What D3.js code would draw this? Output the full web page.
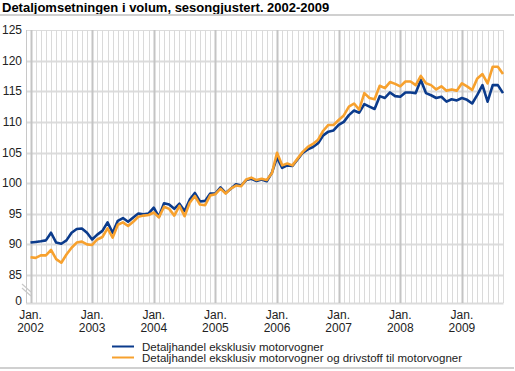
<!DOCTYPE html>
<html>
<head>
<meta charset="utf-8">
<style>
  body { margin: 0; background: #fff; }
  text { font-family: Arial, "Liberation Sans", sans-serif; fill: #222; }
</style>
</head>
<body>
<script src="https://d3js.org/d3.v7.min.js"></script>
<script>

  // monthly index, Jan 2002 .. Sep 2009
  var startYear = 2002;
  var yearTicks = [2002, 2003, 2004, 2005, 2006, 2007, 2008, 2009];
  var yTicks = [125, 120, 115, 110, 105, 100, 95, 90, 85, 0];

  var seriesNames = [
    "Detaljhandel eksklusiv motorvogner",
    "Detaljhandel eksklusiv motorvogner og drivstoff til motorvogner"
  ];

  var eksklMotor = [
    90.3, 90.4, 90.5, 90.65, 91.9, 90.3, 90.1, 90.65, 91.9, 92.5, 92.6, 91.9,
    90.8, 91.6, 92.2, 93.6, 91.9, 93.85, 94.3, 93.7, 94.4, 95.05, 94.9, 95.05,
    96.0, 94.5, 96.7, 96.5, 95.8, 96.65, 95.45, 97.3, 98.4, 97.0, 97.1, 98.3,
    98.3, 99.3, 98.4, 99.1, 99.8, 99.6, 100.5, 100.7, 100.35, 100.6, 100.3, 101.7,
    104.2, 102.5, 102.9, 102.8, 103.85, 104.95, 105.5, 105.9, 106.5, 107.8, 108.4, 108.6,
    109.5, 110.0, 111.1, 111.85, 111.5, 112.9, 112.5, 112.1, 114.2, 113.9, 114.8, 114.2,
    114.1, 114.8, 114.8, 114.7, 116.85, 114.7, 114.35, 113.9, 114.1, 113.3, 113.7, 113.5,
    113.9, 113.6, 113.0, 114.4, 116.0, 113.3, 116.0, 116.0, 114.7
  ];

  var eksklMotorDrivstoff = [
    87.9, 87.8, 88.2, 88.2, 89.1, 87.6, 87.0, 88.35, 89.45, 90.3, 90.45, 90.0,
    89.9, 90.8, 91.2, 92.6, 91.1, 93.2, 93.6, 93.0, 93.7, 94.5, 94.7, 94.8,
    95.2, 94.4, 96.15, 95.8, 94.7, 96.3, 94.6, 96.8, 97.9, 96.5, 96.4, 98.0,
    98.2, 99.1, 98.3, 99.1, 99.6, 99.5, 100.6, 100.9, 100.5, 100.7, 100.5, 101.6,
    104.95, 102.9, 103.2, 102.9, 104.0, 105.1, 105.9, 106.4, 107.1, 108.55, 109.5, 109.5,
    110.3, 111.05, 112.5, 113.0, 112.0, 114.7, 113.9, 113.7, 115.9, 115.5, 116.5, 116.2,
    115.8, 116.6, 116.6, 116.0, 117.5, 116.3, 116.0, 115.3, 115.8, 115.1, 115.3, 115.1,
    116.3, 115.8, 115.2, 117.1, 117.8, 116.3, 119.0, 119.0, 117.8
  ];

  var colors = ["#0b3b8c", "#f7a12e"];

  var width = 515;
  var height = 371;

  var svg = d3.select("body")
      .append("svg")
      .attr("width", width)
      .attr("height", height);

  // title and rules
  svg.append("text")
      .attr("x", 2)
      .attr("y", 12)
      .style("font-size", "13px")
      .style("font-weight", "bold")
      .style("fill", "#000")
      .text("Detaljomsetningen i volum, sesongjustert. 2002-2009");

  svg.append("rect")
      .attr("x", 0).attr("y", 14).attr("width", 514).attr("height", 2)
      .style("fill", "#d0d0d0");

  svg.append("rect")
      .attr("x", 0).attr("y", 367).attr("width", 514).attr("height", 2)
      .style("fill", "#d0d0d0");

  var nMonths = eksklMotor.length;

  var x = d3.scaleLinear()
      .domain([0, nMonths - 1])
      .range([30.5, 503]);

  // broken axis: 0 at the bottom, 85..125 above
  var y = d3.scaleLinear()
      .domain([0, 85, 125])
      .range([302.5, 275, 30]);

  var plotLeft = 26;
  var plotRight = 503.5;
  var plotTop = 30;
  var plotBottom = 303;

  var grid = svg.append("g");

  // horizontal grid
  grid.selectAll(".hgrid")
      .data(yTicks)
      .enter()
      .append("line")
      .attr("x1", plotLeft)
      .attr("x2", plotRight)
      .attr("y1", function (d) { return Math.round(y(d)) + 0.5; })
      .attr("y2", function (d) { return Math.round(y(d)) + 0.5; })
      .style("stroke", "#dcdcdc")
      .style("stroke-width", function (d) { return d === 125 ? 1 : 2; });

  // vertical grid, one per month
  grid.selectAll(".vgrid")
      .data(d3.range(nMonths))
      .enter()
      .append("line")
      .attr("x1", function (d) { return Math.round(x(d)) + 0.5; })
      .attr("x2", function (d) { return Math.round(x(d)) + 0.5; })
      .attr("y1", plotTop)
      .attr("y2", plotBottom)
      .style("stroke", function (d) { return d % 12 === 0 ? "#c4c4c4" : "#dadada"; })
      .style("stroke-width", function (d) { return d % 12 === 0 ? 2 : 1; });

  // left axis line
  grid.append("line")
      .attr("x1", plotLeft + 0.5).attr("x2", plotLeft + 0.5)
      .attr("y1", plotTop).attr("y2", plotBottom)
      .style("stroke", "#c8c8c8");

  grid.append("line")
      .attr("x1", plotRight).attr("x2", plotRight)
      .attr("y1", plotTop).attr("y2", plotBottom)
      .style("stroke", "#dadada");

  // axis break marks
  [0, 4].forEach(function (off) {
    svg.append("line")
        .attr("x1", 22).attr("y1", 284 + off)
        .attr("x2", 31).attr("y2", 292 + off)
        .style("stroke", "#c8c8c8")
        .style("stroke-width", 1.2);
  });

  // y labels
  svg.selectAll(".ylab")
      .data(yTicks)
      .enter()
      .append("text")
      .attr("x", 22)
      .attr("y", function (d) { return d === 0 ? y(d) + 2.5 : y(d) + 4; })
      .attr("text-anchor", "end")
      .style("font-size", "12px")
      .text(function (d) { return d; });

  // x labels
  var xl = svg.selectAll(".xlab")
      .data(yearTicks)
      .enter()
      .append("text")
      .attr("text-anchor", "middle")
      .style("font-size", "12px");

  xl.append("tspan")
      .attr("x", function (d) { return x((d - startYear) * 12); })
      .attr("y", 318.5)
      .text("Jan.");

  xl.append("tspan")
      .attr("x", function (d) { return x((d - startYear) * 12); })
      .attr("y", 331.5)
      .text(function (d) { return d; });

  // lines
  var line = d3.line()
      .x(function (d, i) { return x(i); })
      .y(function (d) { return y(d); });

  [eksklMotor, eksklMotorDrivstoff].forEach(function (s, k) {
    svg.append("path")
        .datum(s)
        .attr("d", line)
        .style("fill", "none")
        .style("stroke", colors[k])
        .style("stroke-width", 2.6)
        .style("stroke-linejoin", "round");
  });

  // legend
  var legend = svg.selectAll(".legend")
      .data(seriesNames)
      .enter()
      .append("g")
      .attr("transform", function (d, i) { return "translate(112," + (346.5 + i * 11) + ")"; });

  legend.append("line")
      .attr("x1", 0).attr("x2", 22)
      .style("stroke", function (d, i) { return colors[i]; })
      .style("stroke-width", 2);

  legend.append("text")
      .attr("x", 30)
      .attr("y", 4)
      .style("font-size", "11.5px")
      .text(function (d) { return d; });

</script>
</body>
</html>
